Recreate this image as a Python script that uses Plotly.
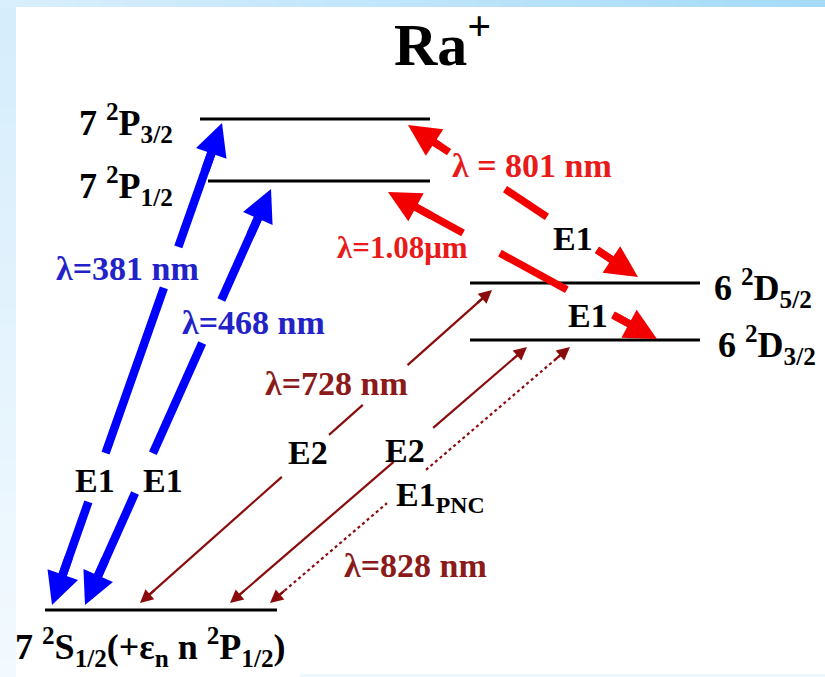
import math
import plotly.graph_objects as go

# ---------------------------------------------------------------------------
# Ra+ level scheme: levels, transitions and their labels
# ---------------------------------------------------------------------------
level_keys = ["S12", "P12", "P32", "D32", "D52"]
level_labels = [
    "7 <sup>2</sup>S<sub>1/2</sub>(+ε<sub>n</sub> n <sup>2</sup>P<sub>1/2</sub>)",
    "7 <sup>2</sup>P<sub>1/2</sub>",
    "7 <sup>2</sup>P<sub>3/2</sub>",
    "6 <sup>2</sup>D<sub>3/2</sub>",
    "6 <sup>2</sup>D<sub>5/2</sub>",
]
# height of each level in the (not to scale) diagram
level_heights = [67, 496, 558, 337, 394]

trans_lower = ["S12", "S12", "D52", "D32", "S12", "S12", "S12"]
trans_upper = ["P32", "P12", "P32", "P12", "D52", "D32", "D32"]
trans_wavelength = ["λ=381 nm", "λ=468 nm", "λ = 801 nm", "λ=1.08μm",
                    "λ=728 nm", "", "λ=828 nm"]
trans_multipole = ["E1", "E1", "E1", "E1", "E2", "E2", "E1<sub>PNC</sub>"]

title_text = "Ra<sup>+</sup>"

# ---------------------------------------------------------------------------
# Layout / drawing settings
# ---------------------------------------------------------------------------
W, H = 825, 677
FONT = "Liberation Serif, Times New Roman, serif"
level_y = dict(zip(level_keys, level_heights))
level_span = {"S12": (45, 277), "P12": (208, 430), "P32": (200, 430),
              "D32": (470, 700), "D52": (470, 700)}

styles = {
    "blue": dict(color="#0000ff", width=8.5, head=0.76, dash="solid", text="#2222c8"),
    "red": dict(color="#f20000", width=7.5, head=0.85, dash="solid", text="#e81a1a"),
    "dark": dict(color="#8b0c0c", width=2.2, head=1.2, dash="solid", text="#8b1a1a"),
    "dot": dict(color="#8b0c0c", width=2.2, head=1.2, dash="dot", text="#8b1a1a"),
}

# x of the lower / upper arrow tip, vertical offset of tips from the levels,
# and parameter ranges (0 = lower tip, 1 = upper tip) left open for labels
trans_draw = [
    dict(x0=52, x1=222, off0=5, off1=-4, gaps=[(0.214, 0.315), (0.658, 0.743)], style="blue"),
    dict(x0=85, x1=271, off0=5, off1=-8, gaps=[(0.269, 0.365), (0.63, 0.733)], style="blue"),
    dict(x0=638, x1=408, off0=6, off1=-6, gaps=[(0.178, 0.396), (0.578, 0.861)], style="red"),
    dict(x0=657, x1=388, off0=1, off1=-11, gaps=[(0.164, 0.335), (0.584, 0.721)], style="red"),
    dict(x0=140, x1=492, off0=7, off1=-7, gaps=[(0.403, 0.537), (0.633, 0.760)], style="dark"),
    dict(x0=230, x1=527, off0=7, off1=-7, gaps=[(0.551, 0.684)], style="dark"),
    dict(x0=270, x1=570, off0=7, off1=-7, gaps=[(0.39, 0.52)], style="dot"),
]

# label anchor points (x, y, xanchor) and font sizes
wavelength_pos = [(127, 409, "center"), (253, 355, "center"), (532, 512, "center"),
                  (402, 430, "center"), (336, 294, "center"), None, (415, 112, "center")]
wavelength_size = [34, 34, 34, 31, 34, 34, 34]
multipole_pos = [(95, 197, "center"), (163, 197, "center"), (573, 439, "center"),
                 (588, 362, "center"), (308, 225, "center"), (405, 227, "center"),
                 (394, 180, "left")]
level_label_pos = {"S12": (13, 30, "left"), "P12": (175, 491, "right"),
                   "P32": (175, 554, "right"), "D32": (716, 332, "left"),
                   "D52": (712, 389, "left")}
LEVEL_FONT_SIZE = 36

fig = go.Figure()

# level bars
for key in level_keys:
    xa, xb = level_span[key]
    fig.add_trace(go.Scatter(x=[xa, xb], y=[level_y[key]] * 2, mode="lines",
                             line=dict(color="black", width=3), hoverinfo="skip",
                             showlegend=False))

annotations = []
for i, geo in enumerate(trans_draw):
    st = styles[geo["style"]]
    xa, ya = geo["x0"], level_y[trans_lower[i]] + geo["off0"]
    xb, yb = geo["x1"], level_y[trans_upper[i]] + geo["off1"]
    L = math.hypot(xb - xa, yb - ya)
    ux, uy = (xb - xa) / L, (yb - ya) / L
    head_len = 5 * st["head"] * st["width"]
    t_head = 0.55 * head_len / L
    # open pieces of the shaft between the heads and the label gaps
    cuts = [t_head] + [v for g in geo["gaps"] for v in g] + [1 - t_head]
    xs, ys = [], []
    for k in range(0, len(cuts), 2):
        t0, t1 = cuts[k], cuts[k + 1]
        xs += [xa + (xb - xa) * t0, xa + (xb - xa) * t1, None]
        ys += [ya + (yb - ya) * t0, ya + (yb - ya) * t1, None]
    fig.add_trace(go.Scatter(x=xs, y=ys, mode="lines",
                             line=dict(color=st["color"], width=st["width"], dash=st["dash"]),
                             hoverinfo="skip", showlegend=False))
    # arrow heads at both ends
    back = head_len * 1.6
    for (tx, ty, sx) in [(xa, ya, 1), (xb, yb, -1)]:
        annotations.append(dict(
            x=tx, y=ty, ax=tx + sx * ux * back, ay=ty + sx * uy * back,
            xref="x", yref="y", axref="x", ayref="y", text="",
            showarrow=True, arrowhead=2, arrowside="end",
            arrowsize=st["head"], arrowwidth=st["width"],
            arrowcolor=st["color"], standoff=0))
    if wavelength_pos[i] is not None:
        px, py, anc = wavelength_pos[i]
        annotations.append(dict(x=px, y=py, xref="x", yref="y", text=trans_wavelength[i],
                                showarrow=False, xanchor=anc, yanchor="middle",
                                font=dict(family=FONT, size=wavelength_size[i],
                                          color=st["text"], weight="bold")))
    px, py, anc = multipole_pos[i]
    annotations.append(dict(x=px, y=py, xref="x", yref="y", text=trans_multipole[i],
                            showarrow=False, xanchor=anc, yanchor="middle",
                            font=dict(family=FONT, size=34, color="black", weight="bold")))

for key, lab in zip(level_keys, level_labels):
    px, py, anc = level_label_pos[key]
    annotations.append(dict(x=px, y=py, xref="x", yref="y", text=lab, showarrow=False,
                            xanchor=anc, yanchor="middle",
                            font=dict(family=FONT, size=LEVEL_FONT_SIZE, color="black",
                                      weight="bold")))

annotations.append(dict(x=442, y=637, xref="x", yref="y", text=title_text, showarrow=False,
                        xanchor="center", yanchor="middle",
                        font=dict(family=FONT, size=60, color="black", weight="bold")))

# light blue frame along the top and left edges
shapes = []
n = 33
for k in range(n):
    f = k / (n - 1)
    r = int(0xd9 + (0xa6 - 0xd9) * f)
    g = int(0xef + (0xdb - 0xef) * f)
    b = int(0xfd + (0xf8 - 0xfd) * f)
    shapes.append(dict(type="rect", xref="x", yref="y", x0=W * k / n, x1=W * (k + 1) / n + 1,
                       y0=H - 7, y1=H, line=dict(width=0), fillcolor=f"rgb({r},{g},{b})",
                       layer="below"))
m = 40
for k in range(m):
    f = k / (m - 1)
    r = int(0xd6 + (0xf3 - 0xd6) * f)
    g = int(0xed + (0xfa - 0xed) * f)
    b = int(0xfc + (0xff - 0xfc) * f)
    y1 = (H - 7) - (H - 7) * k / m
    y0 = (H - 7) - (H - 7) * (k + 1) / m - 1
    shapes.append(dict(type="rect", xref="x", yref="y", x0=0, x1=16, y0=max(y0, 0), y1=y1,
                       line=dict(width=0), fillcolor=f"rgb({r},{g},{b})", layer="below"))
shapes.append(dict(type="rect", xref="x", yref="y", x0=300, x1=W, y0=0, y1=3,
                   line=dict(width=0), fillcolor="#eef7fe", layer="below"))

fig.update_layout(
    width=W, height=H,
    margin=dict(l=0, r=0, t=0, b=0),
    paper_bgcolor="white", plot_bgcolor="white",
    xaxis=dict(range=[0, W], visible=False, fixedrange=True),
    yaxis=dict(range=[0, H], visible=False, fixedrange=True),
    annotations=annotations, shapes=shapes, showlegend=False,
)

fig.write_html("out.html")
